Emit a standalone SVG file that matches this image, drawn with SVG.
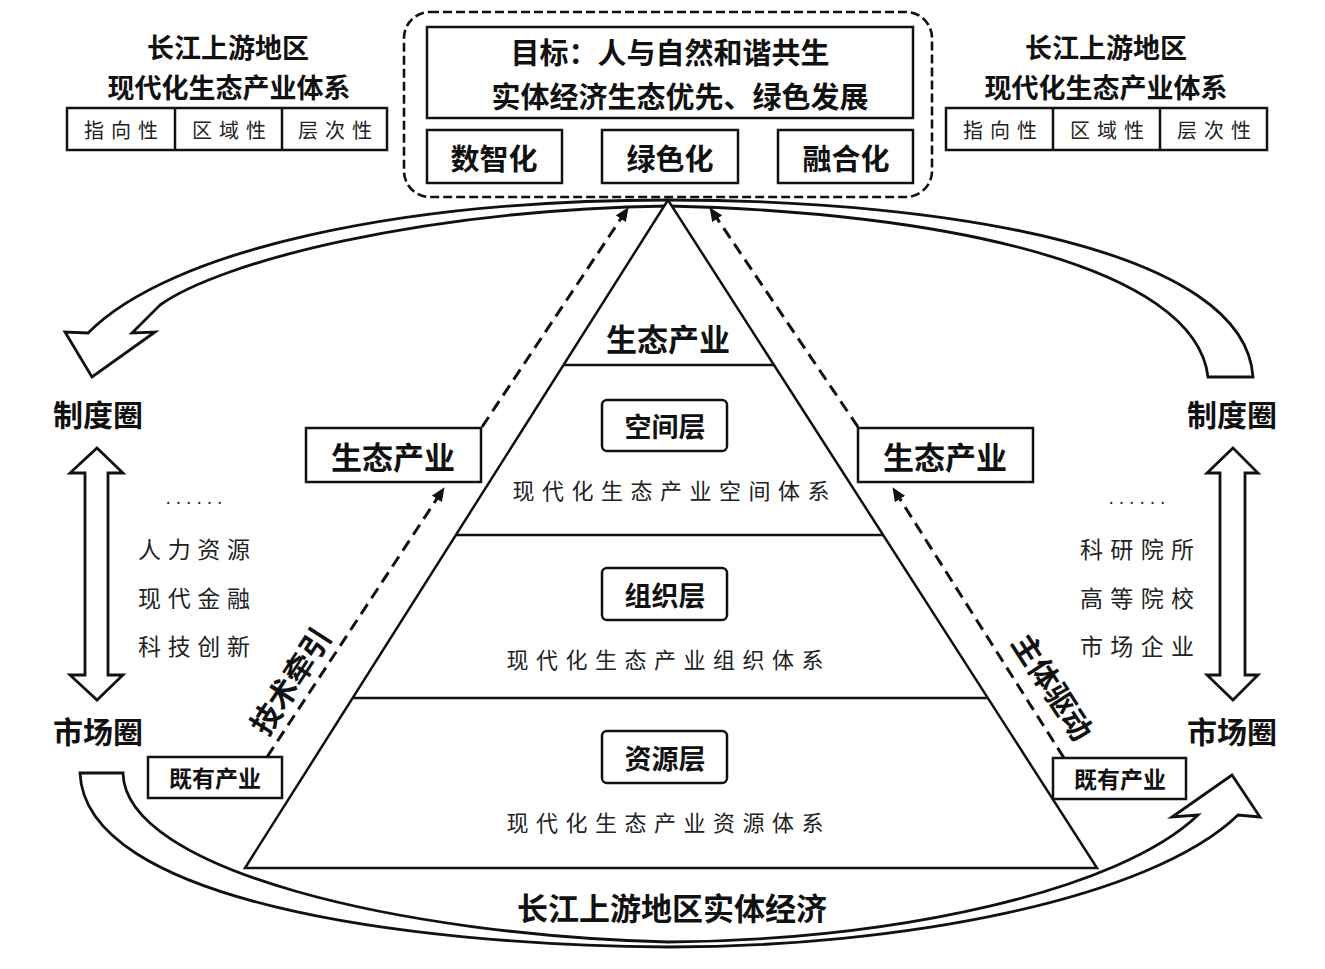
<svg xmlns="http://www.w3.org/2000/svg" width="1325" height="969" viewBox="0 0 1325 969">
<defs>
<style>
.b{font-family:"Noto Sans CJK SC","Noto Sans",sans-serif;font-weight:700;fill:#111;text-anchor:middle;dominant-baseline:central}
.s{font-family:"Noto Sans CJK SC","Noto Sans",sans-serif;font-weight:400;fill:#222;text-anchor:middle;dominant-baseline:central}
.box{fill:#fff;stroke:#111;stroke-width:2.5}
.ln{fill:none;stroke:#111;stroke-width:2.5}
.big{fill:#fff;stroke:#111;stroke-width:2.8;stroke-linejoin:miter}
.dash{fill:none;stroke:#111;stroke-width:3;stroke-dasharray:12 7}
</style>
<marker id="ah" viewBox="0 0 14 12" refX="13" refY="6" markerWidth="14" markerHeight="12" markerUnits="userSpaceOnUse" orient="auto">
<path d="M0 0 L14 6 L0 12 Z" fill="#111"/>
</marker>
</defs>
<rect width="1325" height="969" fill="#fff"/>

<g id="connectors">
<path id="top-arrow" class="big" d="M1253 377 C1245 250 950 200 668 200 C400 200 170 250 88 333 L65 332 L92 377 L155 332 L132 333 L160 305 C220 262 420 210 668 206 C940 212 1195 265 1208 377 Z"/>
<path id="bottom-arrow" class="big" d="M80 773 C85 900 400 945 668 947 C900 947 1150 900 1238 815 L1260 817 L1232 775 L1172 817 L1198 815 C1120 890 900 940 668 942 C400 935 125 870 123 773 Z"/>
<path id="left-double" class="big" d="M97 448 L123 473 L108 473 L108 675 L123 675 L97 700 L70 675 L85 675 L85 473 L70 473 Z"/>
<path id="right-double" class="big" d="M1233 448 L1258 473 L1245 473 L1245 675 L1258 675 L1233 700 L1207 675 L1220 675 L1220 473 L1207 473 Z"/>
</g>

<g id="pyramid">
<path class="box" d="M668 200 L245 868 L1097 868 Z"/>
<line class="ln" x1="563" y1="365" x2="774" y2="365" stroke-width="3"/>
<line class="ln" x1="456" y1="535" x2="883" y2="535" stroke-width="3"/>
<line class="ln" x1="353" y1="698" x2="988" y2="698" stroke-width="3"/>
<text class="b" x="668" y="337" font-size="31">生态产业</text>
</g>

<g id="dashed-arrows">
<line class="dash" x1="267" y1="757" x2="444" y2="488" marker-end="url(#ah)"/>
<line class="dash" x1="482" y1="427" x2="628" y2="208" marker-end="url(#ah)"/>
<line class="dash" x1="1064" y1="758" x2="893" y2="488" marker-end="url(#ah)"/>
<line class="dash" x1="858" y1="427" x2="710" y2="208" marker-end="url(#ah)"/>
</g>

<g id="goal">
<rect x="404" y="12" width="528" height="185" rx="26" fill="none" stroke="#111" stroke-width="2.6" stroke-dasharray="9 4"/>
<rect class="box" x="427" y="27" width="486" height="91"/>
<text class="b" x="670" y="51" font-size="29">目标：人与自然和谐共生</text>
<text class="b" x="680" y="95" font-size="29">实体经济生态优先、绿色发展</text>
</g>
<g id="szh"><rect class="box" x="427" y="130" width="135" height="53"/><text class="b" x="494" y="157" font-size="29">数智化</text></g>
<g id="lsh"><rect class="box" x="602" y="130" width="136" height="53"/><text class="b" x="670" y="157" font-size="29">绿色化</text></g>
<g id="rhh"><rect class="box" x="778" y="130" width="135" height="53"/><text class="b" x="846" y="157" font-size="29">融合化</text></g>

<g id="left-title">
<text class="b" x="228" y="46" font-size="27">长江上游地区</text>
<text class="b" x="229" y="86" font-size="27">现代化生态产业体系</text>
<rect class="box" x="67" y="108" width="320" height="42"/>
<line class="ln" x1="175" y1="108" x2="175" y2="150"/>
<line class="ln" x1="282" y1="108" x2="282" y2="150"/>
<text class="s" x="121" y="129" font-size="20" textLength="74" lengthAdjust="spacing">指向性</text>
<text class="s" x="229" y="129" font-size="20" textLength="74" lengthAdjust="spacing">区域性</text>
<text class="s" x="335" y="129" font-size="20" textLength="74" lengthAdjust="spacing">层次性</text>
</g>
<g id="right-title">
<text class="b" x="1106" y="46" font-size="27">长江上游地区</text>
<text class="b" x="1106" y="86" font-size="27">现代化生态产业体系</text>
<rect class="box" x="946" y="108" width="321" height="42"/>
<line class="ln" x1="1053" y1="108" x2="1053" y2="150"/>
<line class="ln" x1="1160" y1="108" x2="1160" y2="150"/>
<text class="s" x="1000" y="129" font-size="20" textLength="74" lengthAdjust="spacing">指向性</text>
<text class="s" x="1107" y="129" font-size="20" textLength="74" lengthAdjust="spacing">区域性</text>
<text class="s" x="1214" y="129" font-size="20" textLength="74" lengthAdjust="spacing">层次性</text>
</g>

<g id="space-layer">
<rect class="box" x="602" y="400" width="125" height="51" rx="5"/>
<text class="b" x="665" y="425" font-size="27">空间层</text>
<text class="s" x="671" y="489" font-size="22" textLength="317" lengthAdjust="spacing">现代化生态产业空间体系</text>
</g>
<g id="org-layer">
<rect class="box" x="602" y="568" width="125" height="52" rx="5"/>
<text class="b" x="665" y="594" font-size="27">组织层</text>
<text class="s" x="665" y="658" font-size="22" textLength="317" lengthAdjust="spacing">现代化生态产业组织体系</text>
</g>
<g id="res-layer">
<rect class="box" x="602" y="731" width="125" height="52" rx="5"/>
<text class="b" x="665" y="757" font-size="27">资源层</text>
<text class="s" x="665" y="821" font-size="22" textLength="317" lengthAdjust="spacing">现代化生态产业资源体系</text>
</g>

<g id="left-eco"><rect class="box" x="306" y="428" width="175" height="54"/><text class="b" x="393" y="455" font-size="31">生态产业</text></g>
<g id="right-eco"><rect class="box" x="858" y="428" width="175" height="54"/><text class="b" x="945" y="455" font-size="31">生态产业</text></g>

<g id="left-exist"><rect class="box" x="148" y="757" width="134" height="41"/><text class="b" x="215" y="777" font-size="23">既有产业</text></g>
<g id="right-exist"><rect class="box" x="1053" y="758" width="133" height="41"/><text class="b" x="1120" y="778" font-size="23">既有产业</text></g>

<g id="tech"><text class="b" font-size="30" transform="translate(289 680) rotate(-57)">技术牵引</text></g>
<g id="subject"><text class="b" font-size="30" transform="translate(1054 686) rotate(57)">主体驱动</text></g>

<g id="left-labels">
<text class="b" x="98" y="413" font-size="30">制度圈</text>
<text class="b" x="98" y="730" font-size="30">市场圈</text>
<text class="s" x="194" y="497" font-size="16" textLength="56" lengthAdjust="spacing">......</text>
<text class="s" x="194" y="548" font-size="23" textLength="112" lengthAdjust="spacing">人力资源</text>
<text class="s" x="194" y="597" font-size="23" textLength="112" lengthAdjust="spacing">现代金融</text>
<text class="s" x="194" y="645" font-size="23" textLength="112" lengthAdjust="spacing">科技创新</text>
</g>
<g id="right-labels">
<text class="b" x="1232" y="413" font-size="30">制度圈</text>
<text class="b" x="1232" y="730" font-size="30">市场圈</text>
<text class="s" x="1137" y="497" font-size="16" textLength="56" lengthAdjust="spacing">......</text>
<text class="s" x="1137" y="548" font-size="23" textLength="114" lengthAdjust="spacing">科研院所</text>
<text class="s" x="1137" y="597" font-size="23" textLength="114" lengthAdjust="spacing">高等院校</text>
<text class="s" x="1137" y="645" font-size="23" textLength="114" lengthAdjust="spacing">市场企业</text>
</g>

<g id="economy"><text class="b" x="672" y="906" font-size="31">长江上游地区实体经济</text></g>
</svg>
